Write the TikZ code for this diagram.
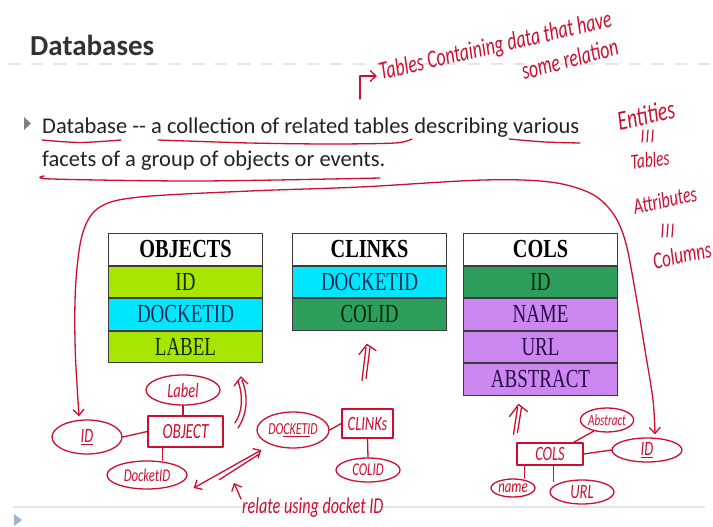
\documentclass[tikz,border=0pt]{standalone}
\usepackage{fontspec}
\usepackage{graphicx}
\usetikzlibrary{shapes.geometric,arrows.meta,calc}
\setmainfont{Carlito}
\newfontfamily\tabfont{Liberation Serif}
\newfontfamily\handfont{Carlito}

\definecolor{ink}{RGB}{206,14,46}
\definecolor{titlegray}{RGB}{50,50,50}
\definecolor{bodytext}{RGB}{35,35,35}
\definecolor{rulegray}{RGB}{226,230,234}
\definecolor{tabline}{RGB}{60,60,60}
\definecolor{limefill}{RGB}{168,230,0}
\definecolor{cyanfill}{RGB}{0,230,252}
\definecolor{greenfill}{RGB}{46,158,92}
\definecolor{lilacfill}{RGB}{204,136,240}
\definecolor{limetext}{RGB}{22,40,0}
\definecolor{cyantext}{RGB}{0,40,80}
\definecolor{greentext}{RGB}{5,35,15}
\definecolor{lilactext}{RGB}{40,10,70}
\definecolor{bulletgray}{RGB}{130,130,130}
\definecolor{navgray}{RGB}{160,180,200}

% handwriting is tall and narrow; table labels are condensed serif caps
\newcommand\handtxt[1]{\scalebox{0.85}[1.2]{#1}}
\newcommand\celltxt[1]{\scalebox{0.73}[1]{#1}}
\newcommand\headtxt[1]{\scalebox{0.78}[1]{\bfseries #1}}

\tikzset{
  cell/.style={draw=tabline, line width=1pt, minimum width=154pt, minimum height=31.5pt,
    inner sep=0pt, anchor=north west, font=\tabfont\fontsize{26}{26}\selectfont},
  headcell/.style={cell, fill=white, text=black},
  limecell/.style={cell, fill=limefill, text=limetext},
  cyancell/.style={cell, fill=cyanfill, text=cyantext},
  greencell/.style={cell, fill=greenfill, text=greentext},
  lilaccell/.style={cell, fill=lilacfill, text=lilactext},
  pen/.style={draw=ink, line width=1.3pt, line cap=round, line join=round},
  hand/.style={text=ink, font=\handfont\itshape\fontsize{#1}{#1}\selectfont},
  ell/.style={pen, ellipse, inner sep=0pt},
  erbox/.style={pen, rectangle, inner sep=0pt},
  barb/.style={-{Straight Barb[length=6pt,width=11pt]}},
  barbs/.style={{Straight Barb[length=6pt,width=11pt]}-{Straight Barb[length=6pt,width=11pt]}},
}

\begin{document}
\begin{tikzpicture}[x=1pt,y=-1pt]
\fill[white] (0,0) rectangle (713,527);
\useasboundingbox (0,0) rectangle (713,527);

% ---- slide frame: title, rules, navigation mark
\node[anchor=base west, inner sep=0pt, text=titlegray,
      font=\bfseries\fontsize{29}{29}\selectfont] (title) at (30,56) {Databases};
\draw[rulegray, line width=2pt, dash pattern=on 12pt off 11pt] (8,64) -- (713,64);
\draw[rulegray, line width=2.5pt] (13,507) -- (705,507);
\fill[navgray] (14,514) -- (22,520) -- (14,526) -- cycle;

% ---- bullet text
\fill[bulletgray] (24,117) -- (31,123.5) -- (24,130) -- cycle;
\node[anchor=base west, inner sep=0pt, text=bodytext, font=\fontsize{22.5}{22.5}\selectfont]
  (line1) at (42,133) {Database -{}- a collection of related tables describing various};
\node[anchor=base west, inner sep=0pt, text=bodytext, font=\fontsize{22.5}{22.5}\selectfont]
  (line2) at (42,166) {facets of a group of objects or events.};

% ---- hand underlines
\draw[pen] plot[smooth] coordinates {(42,140) (80,142.5) (121,140)};
\draw[pen] plot[smooth] coordinates {(158,140) (250,143) (330,144) (395,143) (412,139)};
\draw[pen] plot[smooth] coordinates {(509,139) (545,142) (580,143)};
\draw[pen] plot[smooth] coordinates {(44,176) (52,179) (200,181) (380,178)};

% ---- hand notes
\node[hand=21, anchor=base west, inner sep=0pt, rotate=13] (note1) at (381,80)
  {\handtxt{Tables Containing data that have}};
\node[hand=21, anchor=base west, inner sep=0pt, rotate=15] (note2) at (524,80)
  {\handtxt{some relation}};
\coordinate (tailA) at (360,99);
\draw[pen, barb] (tailA) |- ($(note1.base west)+(-4,-4)$);

\node[hand=23, rotate=12] (ent) at (646,115) {\handtxt{Entities}};
\draw[pen, line width=1.2pt] (643,130)--(642,142) (648,130)--(647,142) (653,130)--(652,142);
\node[hand=18, rotate=6] (tbl) at (650,160) {\handtxt{Tables}};
\node[hand=19, rotate=12] (att) at (665,200) {\handtxt{Attributes}};
\draw[pen, line width=1.2pt] (663,224)--(662,237) (668,224)--(667,237) (673,224)--(672,237);
\node[hand=20, rotate=12] (colm) at (682,255) {\handtxt{Columns}};

% ---- tables
\node[headcell] (oh) at (108,233) {\headtxt{OBJECTS}};
\node[limecell] (o1) at (oh.south west) {\celltxt{ID}};
\node[cyancell] (o2) at (o1.south west) {\celltxt{DOCKETID}};
\node[limecell] (o3) at (o2.south west) {\celltxt{LABEL}};

\node[headcell] (ch) at (292,233) {\headtxt{CLINKS}};
\node[cyancell] (c1) at (ch.south west) {\celltxt{DOCKETID}};
\node[greencell] (c2) at (c1.south west) {\celltxt{COLID}};

\node[headcell] (kh) at (463,233) {\headtxt{COLS}};
\node[greencell] (k1) at (kh.south west) {\celltxt{ID}};
\node[lilaccell] (k2) at (k1.south west) {\celltxt{NAME}};
\node[lilaccell] (k3) at (k2.south west) {\celltxt{URL}};
\node[lilaccell] (k4) at (k3.south west) {\celltxt{ABSTRACT}};

% ---- ER sketch: OBJECT
\node[ell, hand=17, minimum width=74pt, minimum height=30pt] (lbl) at (183,390) {\handtxt{Label}};
\node[erbox, hand=18, minimum width=75pt, minimum height=31pt] (obj) at (185.5,431.5) {\handtxt{OBJECT}};
\node[ell, hand=17, minimum width=70pt, minimum height=34pt] (oid) at (87,437) {\handtxt{\underline{ID}}};
\node[ell, hand=15, minimum width=80pt, minimum height=28pt] (odk) at (147,475) {\handtxt{DocketID}};
\draw[pen] (lbl.south) -- (lbl.south |- obj.north);
\draw[pen] (oid.east) -- (obj.west);
\coordinate (ob1) at ($(obj.south west)!0.2!(obj.south east)$);
\draw[pen] (ob1) -- (ob1 |- odk.north);

% ---- ER sketch: CLINKS
\node[ell, hand=14, minimum width=72pt, minimum height=36pt] (cdk) at (293,430) {\handtxt{DO\underline{CKETI}D}};
\node[erbox, hand=17, minimum width=51pt, minimum height=29pt] (clk) at (367.5,423.5) {\handtxt{CLINKs}};
\node[ell, hand=15, minimum width=64pt, minimum height=24pt] (ccol) at (368,470) {\handtxt{COLID}};
\draw[pen] (cdk.east) -- (clk.west);
\draw[pen] (clk.south) -- (ccol.north);

% ---- ER sketch: COLS
\node[erbox, hand=17, minimum width=66pt, minimum height=22pt] (cols) at (550,454) {\handtxt{COLS}};
\node[ell, hand=13, minimum width=50pt, minimum height=24pt] (abs) at (607,420) {\handtxt{Abstract}};
\node[ell, hand=17, minimum width=70pt, minimum height=24pt] (kid) at (647,450) {\handtxt{\underline{ID}}};
\node[ell, hand=15, minimum width=44pt, minimum height=18pt] (nm) at (513,488) {\handtxt{name}};
\node[ell, hand=17, minimum width=64pt, minimum height=24pt] (url) at (582,492) {\handtxt{URL}};
\coordinate (cs1) at ($(cols.north west)!0.85!(cols.north east)$);
\draw[pen] (cs1) -- (abs.220);
\draw[pen] (cols.east) -- (kid.west);
\coordinate (cs2) at ($(cols.south west)!0.12!(cols.south east)$);
\draw[pen] (cs2) -- (cs2 |- nm.north);
\coordinate (cs3) at ($(cols.south west)!0.55!(cols.south east)$);
\draw[pen] (cs3) -- ($(cs3 |- url.north)+(0,2)$);

% ---- the two ID attributes are the same key
\coordinate (bigL) at ($(oid.north)+(-8,-3)$);
\coordinate (bigR) at ($(kid.north)+(8,-3)$);
\draw[pen, barbs] plot[smooth, tension=0.55] coordinates {(bigL) (75,340) (76,280) (83,232)
  (100,207) (140,197) (250,191) (360,187) (483,180) (550,182) (590,193) (612,212) (625,240)
  (635,290) (645,350) (653,400) (bigR)};

% ---- docket id links OBJECT and CLINKS
\coordinate (relL) at ($(odk.east)+(6,13)$);
\coordinate (relR) at ($(cdk.west)+(5,20)$);
\draw[pen, barbs] (relL) -- (relR);
\draw[pen] ($(relL)!0.35!(relR)+(2,5)$) -- ($(relR)+(-2,4)$);
\node[hand=19, anchor=base west, inner sep=0pt] (rel) at (242,513) {\handtxt{relate using docket ID}};
\draw[pen, barb] ($(rel.north west)+(-1,2)$) -- ++(-7,-16);

% ---- up arrows from the sketches to the tables
\coordinate (upA) at ($(o3.south east)+(-22,14)$);
\draw[pen] ($(upA)+(1,3)$) .. controls ($(upA)+(7,18)$) and ($(upA)+(7,36)$) .. ($(upA)+(-3,51)$);
\draw[pen] ($(upA)+(-3,4)$) .. controls ($(upA)+(2,18)$) and ($(upA)+(2,34)$) .. ($(upA)+(-6,46)$);
\draw[pen] ($(upA)+(-7,9)$) -- (upA) -- ($(upA)+(7,7)$);

\coordinate (upB) at ($(c2.south)+(-2.5,14)$);
\draw[pen] ($(upB)+(-1,3)$) -- ($(upB)+(-5,36)$);
\draw[pen] ($(upB)+(3,3)$) -- ($(upB)+(-1,34)$);
\draw[pen] ($(upB)+(-8,10)$) -- (upB) -- ($(upB)+(9,6)$);

\coordinate (upC) at ($(k4.south)+(-22,9)$);
\draw[pen] ($(upC)+(-1,3)$) -- ($(upC)+(-5,30)$);
\draw[pen] ($(upC)+(3,3)$) -- ($(upC)+(-1,28)$);
\draw[pen] ($(upC)+(-9,12)$) -- (upC) -- ($(upC)+(9,7)$);
\end{tikzpicture}
\end{document}
